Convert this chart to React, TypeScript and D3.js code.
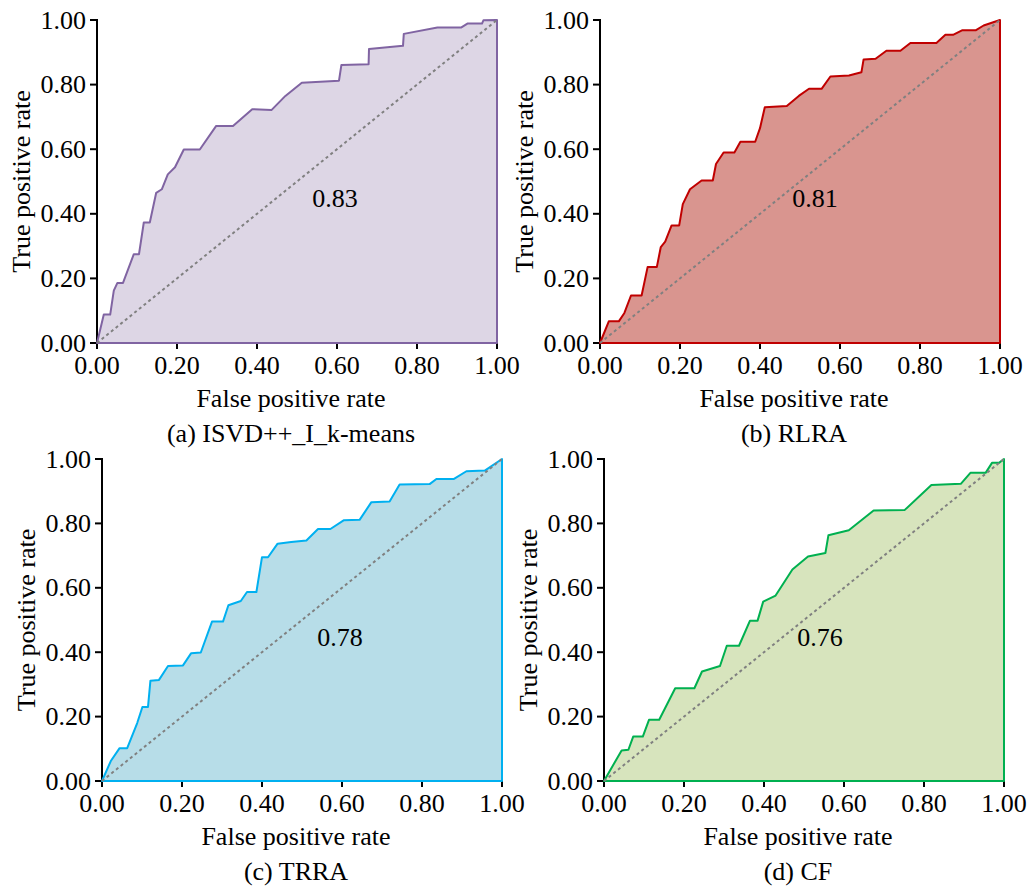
import React from "react";
import * as d3 from "d3";

// ---- Data ----
const fprA = [0, 0.017, 0.033, 0.042, 0.051, 0.065, 0.092, 0.105, 0.117, 0.132, 0.148, 0.162, 0.177, 0.195, 0.217, 0.257, 0.298, 0.34, 0.388, 0.436, 0.471, 0.512, 0.605, 0.611, 0.679, 0.68, 0.765, 0.767, 0.851, 0.911, 0.926, 0.9625, 0.966, 0.998, 1.0];
const tprA = [0, 0.088, 0.088, 0.162, 0.186, 0.186, 0.275, 0.275, 0.373, 0.373, 0.465, 0.476, 0.522, 0.544, 0.599, 0.599, 0.672, 0.672, 0.724, 0.721, 0.765, 0.806, 0.812, 0.861, 0.863, 0.91, 0.92, 0.957, 0.977, 0.977, 0.989, 0.989, 0.999, 1.0, 1.0];

const fprB = [0, 0.022, 0.047, 0.061, 0.0775, 0.104, 0.119, 0.142, 0.152, 0.163, 0.179, 0.198, 0.207, 0.225, 0.254, 0.282, 0.29, 0.309, 0.336, 0.351, 0.388, 0.4, 0.412, 0.467, 0.497, 0.5225, 0.554, 0.576, 0.6225, 0.6535, 0.659, 0.689, 0.716, 0.751, 0.776, 0.841, 0.8635, 0.8825, 0.905, 0.939, 0.959, 1.0];
const tprB = [0, 0.067, 0.067, 0.093, 0.147, 0.147, 0.235, 0.235, 0.297, 0.314, 0.364, 0.364, 0.43, 0.476, 0.503, 0.503, 0.554, 0.59, 0.59, 0.623, 0.623, 0.665, 0.73, 0.734, 0.765, 0.787, 0.787, 0.825, 0.828, 0.838, 0.878, 0.88, 0.905, 0.905, 0.929, 0.929, 0.954, 0.954, 0.968, 0.968, 0.983, 1.0];

const fprC = [0, 0.022, 0.044, 0.063, 0.088, 0.101, 0.115, 0.121, 0.1425, 0.165, 0.2025, 0.223, 0.247, 0.275, 0.3025, 0.316, 0.347, 0.3625, 0.386, 0.4, 0.415, 0.439, 0.473, 0.511, 0.54, 0.571, 0.605, 0.644, 0.6735, 0.719, 0.744, 0.819, 0.836, 0.88, 0.911, 0.957, 1.0];
const tprC = [0, 0.062, 0.102, 0.102, 0.18, 0.23, 0.23, 0.311, 0.314, 0.357, 0.359, 0.397, 0.399, 0.495, 0.495, 0.546, 0.559, 0.587, 0.587, 0.695, 0.695, 0.737, 0.742, 0.747, 0.7825, 0.7825, 0.81, 0.811, 0.866, 0.868, 0.9205, 0.922, 0.938, 0.938, 0.962, 0.964, 1.0];

const fprD = [0, 0.044, 0.061, 0.073, 0.097, 0.1125, 0.138, 0.178, 0.226, 0.245, 0.29, 0.307, 0.3375, 0.365, 0.384, 0.398, 0.429, 0.471, 0.51, 0.5535, 0.561, 0.612, 0.674, 0.752, 0.8185, 0.892, 0.916, 0.954, 0.97, 0.9875, 1.0];
const tprD = [0, 0.095, 0.097, 0.138, 0.138, 0.19, 0.19, 0.288, 0.288, 0.34, 0.357, 0.42, 0.42, 0.498, 0.498, 0.557, 0.576, 0.657, 0.697, 0.708, 0.763, 0.779, 0.84, 0.842, 0.9195, 0.923, 0.957, 0.957, 0.988, 0.988, 1.0];

const aucValues = ["0.83", "0.81", "0.78", "0.76"];
const captions = ["(a) ISVD++_I_k-means", "(b) RLRA", "(c) TRRA", "(d) CF"];
const tickValues = [0, 0.2, 0.4, 0.6, 0.8, 1.0];

const FONT = "'Liberation Serif', Tinos, 'Times New Roman', Times, 'DejaVu Serif', serif";

type Panel = {
  fpr: number[];
  tpr: number[];
  auc: string;
  caption: string;
  stroke: string;
  fill: string;
  left: number;
  right: number;
  top: number;
  bottom: number;
  aucPos: [number, number];
};

const panels: Panel[] = [
  { fpr: fprA, tpr: tprA, auc: aucValues[0], caption: captions[0], stroke: "#8064A2", fill: "#DDD6E5", left: 97, right: 497, top: 20, bottom: 343, aucPos: [0.595, 0.42] },
  { fpr: fprB, tpr: tprB, auc: aucValues[1], caption: captions[1], stroke: "#C00000", fill: "#D9958F", left: 600, right: 1000, top: 20, bottom: 343, aucPos: [0.5375, 0.42] },
  { fpr: fprC, tpr: tprC, auc: aucValues[2], caption: captions[2], stroke: "#00B0F0", fill: "#B7DDE8", left: 102, right: 502, top: 459, bottom: 781, aucPos: [0.595, 0.42] },
  { fpr: fprD, tpr: tprD, auc: aucValues[3], caption: captions[3], stroke: "#00B050", fill: "#D7E4BD", left: 604, right: 1004, top: 459, bottom: 781, aucPos: [0.54, 0.42] },
];

const textStyle: React.CSSProperties = { fontFamily: FONT, fontSize: "26px" };

function RocPanel({ p }: { p: Panel }) {
  const x = d3.scaleLinear().domain([0, 1]).range([p.left, p.right]);
  const y = d3.scaleLinear().domain([0, 1]).range([p.bottom, p.top]);
  const pts: [number, number][] = p.fpr.map((f, i) => [f, p.tpr[i]]);
  pts.push([1, 0]);
  const line = d3
    .line<[number, number]>()
    .x((d) => x(d[0]))
    .y((d) => y(d[1]));
  const path = (line(pts) || "") + "Z";
  const diag = line([
    [0, 0],
    [1, 1],
  ]) || "";
  const fmt = d3.format(".2f");
  const cx = (p.left + p.right) / 2 - 6;
  const cy = (p.top + p.bottom) / 2;
  return (
    <g>
      <line x1={p.left} x2={p.left} y1={p.top - 1} y2={p.bottom + 1} stroke="#000" strokeWidth={2} />
      <line x1={p.left - 1} x2={p.right + 1} y1={p.bottom} y2={p.bottom} stroke="#000" strokeWidth={2} />
      {tickValues.map((t) => (
        <g key={"y" + t}>
          <line x1={p.left - 7} x2={p.left} y1={y(t)} y2={y(t)} stroke="#000" strokeWidth={2} />
          <text x={p.left - 11} y={y(t)} dy="0.33em" textAnchor="end" style={textStyle} fill="#000">
            {fmt(t)}
          </text>
        </g>
      ))}
      {tickValues.map((t) => (
        <g key={"x" + t}>
          <line x1={x(t)} x2={x(t)} y1={p.bottom} y2={p.bottom + 6} stroke="#000" strokeWidth={2} />
          <text x={x(t)} y={p.bottom + 31} textAnchor="middle" style={textStyle} fill="#000">
            {fmt(t)}
          </text>
        </g>
      ))}
      <path d={path} fill={p.fill} stroke={p.stroke} strokeWidth={2} strokeLinejoin="round" />
      <path d={diag} fill="none" stroke="#808080" strokeWidth={2} strokeDasharray="3,3" />
      <text x={x(p.aucPos[0])} y={y(p.aucPos[1])} textAnchor="middle" style={textStyle} fill="#000">
        {p.auc}
      </text>
      <text x={cx} y={p.bottom + 64} textAnchor="middle" style={textStyle} fill="#000">
        False positive rate
      </text>
      <text x={cx} y={p.bottom + 99} textAnchor="middle" style={textStyle} fill="#000">
        {p.caption}
      </text>
      <text
        transform={`translate(${p.left - 76},${cy}) rotate(-90)`}
        textAnchor="middle"
        dy="0.33em"
        style={textStyle}
        fill="#000"
      >
        True positive rate
      </text>
    </g>
  );
}

export default function App() {
  return (
    <div style={{ position: "absolute", left: 0, top: 0 }}>
      <svg width={1028} height={888} style={{ display: "block", background: "#fff" }}>
        {panels.map((p, i) => (
          <RocPanel key={i} p={p} />
        ))}
      </svg>
    </div>
  );
}
